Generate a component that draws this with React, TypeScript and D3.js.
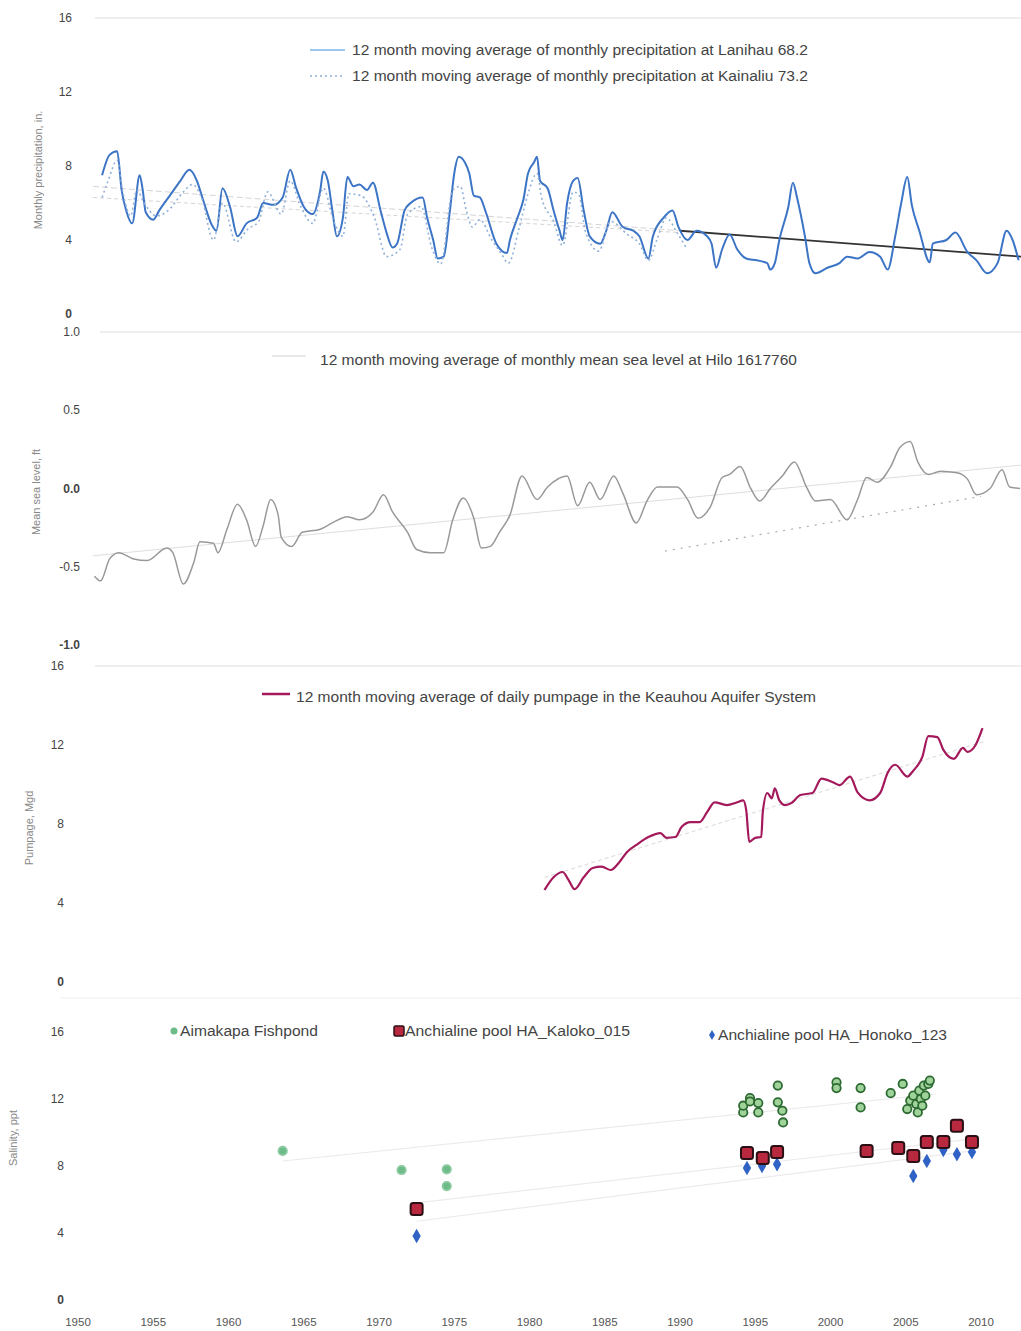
import React from 'react';
import * as d3 from 'd3';

type P = [number, number];

// ---- Panel 1: 12-month moving average precipitation (inches) ----
const lanihau: P[] = [
  [1951.6, 7.5], [1952.1, 8.6], [1952.6, 8.8], [1952.9, 6.7], [1953.2, 5.6], [1953.6, 4.9],
  [1954.1, 7.5], [1954.3, 6.7], [1954.5, 5.5], [1955.0, 5.1], [1955.4, 5.6], [1956.1, 6.4],
  [1956.8, 7.2], [1957.4, 7.8], [1957.9, 7.2], [1958.3, 6.2], [1958.9, 4.8], [1959.2, 4.5],
  [1959.6, 6.8], [1960.1, 5.8], [1960.6, 4.2], [1961.2, 4.9], [1961.9, 5.2], [1962.3, 6.0],
  [1963.0, 5.9], [1963.6, 6.3], [1964.1, 7.8], [1964.5, 6.8], [1965.0, 5.8], [1965.6, 5.4],
  [1966.1, 6.7], [1966.3, 7.7], [1966.6, 7.2], [1966.9, 5.6], [1967.2, 4.2], [1967.6, 5.2],
  [1967.9, 7.4], [1968.3, 6.9], [1968.7, 7.0], [1969.2, 6.7], [1969.6, 7.1], [1970.1, 5.6],
  [1970.5, 4.4], [1970.9, 3.6], [1971.2, 3.8], [1971.7, 5.6], [1972.1, 6.0], [1972.9, 6.3],
  [1973.2, 5.2], [1973.6, 4.0], [1973.9, 3.0], [1974.3, 3.1], [1974.7, 5.5], [1975.0, 7.6],
  [1975.3, 8.5], [1975.7, 8.2], [1976.0, 7.6], [1976.3, 6.4], [1976.7, 6.3], [1977.1, 5.5],
  [1977.8, 3.8], [1978.5, 3.3], [1978.7, 4.0], [1979.2, 5.2], [1979.6, 6.2], [1979.9, 7.6],
  [1980.3, 8.2], [1980.5, 8.5], [1980.7, 7.2], [1981.2, 6.8], [1981.6, 5.6], [1982.0, 4.5],
  [1982.2, 4.0], [1982.5, 6.0], [1982.9, 7.2], [1983.2, 7.35], [1983.6, 5.6], [1984.0, 4.2],
  [1984.7, 3.8], [1985.1, 4.5], [1985.5, 5.5], [1986.2, 4.7], [1986.9, 4.5], [1987.3, 4.2],
  [1987.9, 3.0], [1988.2, 4.2], [1988.9, 5.2], [1989.5, 5.6], [1989.9, 4.7], [1990.5, 4.0],
  [1991.1, 4.5], [1991.8, 4.2], [1992.1, 3.8], [1992.4, 2.5], [1992.8, 3.5], [1993.3, 4.3],
  [1993.8, 3.5], [1994.4, 3.0], [1995.1, 2.9], [1995.8, 2.75], [1996.0, 2.4], [1996.3, 2.75],
  [1996.6, 4.0], [1997.2, 5.8], [1997.5, 7.1], [1997.8, 6.2], [1998.3, 4.2], [1998.6, 2.75],
  [1999.0, 2.2], [1999.8, 2.5], [2000.6, 2.75], [2001.1, 3.1], [2001.8, 3.0], [2002.6, 3.35],
  [2003.3, 3.1], [2003.8, 2.4], [2004.3, 4.2], [2004.7, 6.0], [2005.1, 7.4], [2005.4, 5.9],
  [2005.9, 4.5], [2006.6, 2.8], [2006.8, 3.8], [2007.7, 4.0], [2008.3, 4.4], [2009.1, 3.35],
  [2009.7, 2.9], [2010.4, 2.2], [2011.1, 2.75], [2011.7, 4.5], [2012.1, 4.0], [2012.5, 2.9],
];

const kainaliu: P[] = [
  [1951.6, 6.3], [1952.0, 7.2], [1952.6, 8.3], [1953.0, 6.5], [1953.5, 5.3], [1953.9, 6.7],
  [1954.4, 6.0], [1955.2, 5.3], [1956.0, 5.6], [1957.0, 6.6], [1957.6, 7.0], [1958.2, 6.3],
  [1959.0, 4.0], [1959.6, 6.0], [1960.5, 3.9], [1961.3, 4.6], [1962.0, 5.0], [1962.6, 6.6],
  [1963.5, 5.4], [1964.1, 7.2], [1964.8, 5.8], [1965.6, 4.9], [1966.3, 6.8], [1967.0, 5.0],
  [1967.6, 4.2], [1968.0, 6.5], [1968.8, 6.4], [1969.7, 5.2], [1970.5, 3.1], [1971.4, 3.5],
  [1971.9, 5.4], [1972.8, 5.8], [1973.5, 3.6], [1974.1, 2.7], [1974.9, 6.7], [1975.4, 6.9],
  [1975.8, 5.6], [1976.2, 4.7], [1976.7, 5.1], [1977.5, 4.0], [1978.1, 3.3], [1978.6, 2.75],
  [1979.3, 4.6], [1979.9, 6.5], [1980.5, 7.6], [1980.8, 6.3], [1981.6, 5.0], [1982.2, 3.7],
  [1982.9, 6.6], [1983.3, 6.4], [1983.7, 4.5], [1984.6, 3.4], [1985.4, 5.0], [1986.5, 4.3],
  [1987.3, 3.8], [1987.9, 2.9], [1988.5, 4.1], [1989.1, 5.2], [1989.8, 4.4], [1990.4, 3.6],
];

const lanihauTrend: P[] = [[1951.0, 6.9], [1990.0, 4.5], [2012.7, 3.1]];
const kainaliuTrend: P[] = [[1951.0, 6.3], [1990.0, 4.4]];

// ---- Panel 2: 12-month moving average sea level (ft) ----
const seaLevel: P[] = [
  [1951.1, -0.56], [1951.5, -0.59], [1952.1, -0.45], [1952.7, -0.41], [1953.7, -0.45], [1954.6, -0.46],
  [1955.9, -0.38], [1956.3, -0.41], [1957.0, -0.61], [1957.7, -0.47], [1958.1, -0.34], [1959.0, -0.35],
  [1959.3, -0.41], [1959.9, -0.26], [1960.6, -0.10], [1961.2, -0.20], [1961.8, -0.37], [1962.3, -0.24],
  [1962.8, -0.07], [1963.3, -0.17], [1963.5, -0.31], [1964.2, -0.37], [1964.9, -0.28], [1966.1, -0.26],
  [1966.9, -0.22], [1967.9, -0.18], [1968.7, -0.20], [1969.6, -0.15], [1970.3, -0.04], [1970.9, -0.15],
  [1971.9, -0.28], [1972.5, -0.39], [1973.4, -0.41], [1974.3, -0.41], [1974.9, -0.20], [1975.6, -0.06],
  [1976.3, -0.19], [1976.8, -0.38], [1977.4, -0.37], [1978.0, -0.28], [1978.7, -0.17], [1979.5, 0.08],
  [1980.5, -0.07], [1981.2, 0.01], [1982.5, 0.08], [1983.2, -0.11], [1984.0, 0.04], [1984.7, -0.07],
  [1985.6, 0.08], [1986.2, -0.03], [1987.1, -0.22], [1987.8, -0.08], [1988.5, 0.01], [1989.8, 0.01],
  [1990.5, -0.07], [1991.2, -0.19], [1992.0, -0.12], [1992.8, 0.07], [1993.3, 0.09], [1994.0, 0.14],
  [1994.7, 0.0], [1995.3, -0.08], [1996.0, 0.0], [1996.8, 0.08], [1997.6, 0.17], [1998.4, 0.01],
  [1999.0, -0.08], [2000.0, -0.07], [2001.1, -0.20], [2001.8, -0.07], [2002.4, 0.07], [2003.1, 0.04],
  [2004.0, 0.14], [2004.6, 0.26], [2005.3, 0.30], [2005.8, 0.17], [2006.5, 0.09], [2007.3, 0.11],
  [2008.4, 0.10], [2009.1, 0.06], [2009.7, -0.04], [2010.6, 0.0], [2011.4, 0.12], [2011.9, 0.01],
  [2012.6, 0.0],
];
const seaTrend: P[] = [[1951.0, -0.43], [2012.7, 0.15]];
const seaTrend2: P[] = [[1989.0, -0.40], [2010.0, -0.05]];

// ---- Panel 3: 12-month moving average pumpage (Mgd) ----
const pumpage: P[] = [
  [1981.0, 4.66], [1981.6, 5.3], [1982.2, 5.57], [1982.6, 5.16], [1983.0, 4.7], [1983.6, 5.3],
  [1984.2, 5.77], [1984.8, 5.84], [1985.4, 5.67], [1985.9, 6.0], [1986.5, 6.6], [1987.1, 6.94],
  [1987.9, 7.34], [1988.7, 7.54], [1989.1, 7.3], [1989.7, 7.34], [1990.1, 7.85], [1990.7, 8.1],
  [1991.3, 8.1], [1991.8, 8.6], [1992.3, 9.1], [1993.1, 8.96], [1993.8, 9.1], [1994.2, 9.2],
  [1994.4, 8.7], [1994.6, 7.1], [1995.0, 7.3], [1995.4, 7.34], [1995.5, 8.6], [1995.8, 9.57],
  [1996.1, 9.3], [1996.3, 9.8], [1996.6, 9.2], [1997.0, 8.96], [1997.4, 9.06], [1998.0, 9.47],
  [1998.8, 9.57], [1999.4, 10.3], [2000.2, 10.1], [2000.6, 9.97], [2001.3, 10.4], [2001.8, 9.6],
  [2002.6, 9.2], [2003.3, 9.57], [2003.8, 10.6], [2004.3, 11.0], [2005.1, 10.4], [2005.5, 10.7],
  [2006.1, 11.4], [2006.5, 12.45], [2007.1, 12.4], [2007.5, 11.75], [2008.2, 11.3], [2008.8, 11.85],
  [2009.1, 11.65], [2009.6, 11.95], [2010.1, 12.86],
];
const pumpTrend: P[] = [[1981.0, 5.3], [2010.3, 12.2]];

// ---- Panel 4: salinity (ppt) ----
const aimakapa: P[] = [
  [1963.6, 8.9], [1971.5, 7.76], [1974.5, 7.8], [1974.5, 6.8],
  [1994.2, 11.2], [1994.2, 11.6], [1994.65, 12.06], [1994.65, 11.85], [1995.2, 11.76], [1995.2, 11.2],
  [1996.5, 12.8], [1996.5, 11.8], [1996.8, 11.3], [1996.85, 10.6], [2000.4, 13.0], [2000.4, 12.65],
  [2002.0, 12.65], [2002.0, 11.5], [2004.0, 12.35], [2004.8, 12.9],
  [2005.1, 11.4], [2005.3, 11.9], [2005.5, 12.2], [2005.7, 11.7], [2005.9, 12.5], [2006.0, 12.0],
  [2006.2, 12.8], [2006.3, 12.2], [2006.5, 12.9], [2006.6, 13.1], [2005.8, 11.2], [2006.1, 11.6],
];
const kaloko: P[] = [
  [1972.5, 5.43], [1994.45, 8.78], [1995.5, 8.48], [1996.45, 8.84], [2002.4, 8.9], [2004.5, 9.07],
  [2005.5, 8.6], [2006.4, 9.43], [2007.5, 9.43], [2008.4, 10.4], [2009.4, 9.43],
];
const honoko: P[] = [
  [1972.5, 3.82], [1994.45, 7.88], [1995.45, 8.0], [1996.45, 8.1], [2005.5, 7.4], [2006.4, 8.3],
  [2007.5, 8.96], [2008.4, 8.7], [2009.4, 8.84],
];
const aimakapaTrend: P[] = [[1963.6, 8.3], [2007.0, 12.3]];
const kalokoTrend: P[] = [[1972.5, 5.8], [2009.4, 9.6]];
const honokoTrend: P[] = [[1972.5, 4.7], [2009.4, 8.9]];

const xTicks = [1950, 1955, 1960, 1965, 1970, 1975, 1980, 1985, 1990, 1995, 2000, 2005, 2010];
const precipTicks = [0, 4, 8, 12, 16];
const seaTicks = [-1, -0.5, 0, 0.5, 1];
const pumpTicks = [0, 4, 8, 12, 16];
const salTicks = [0, 4, 8, 12, 16];

const FONT = 'Liberation Sans, Arial, sans-serif';

export default function App() {
  const x = d3.scaleLinear().domain([1950, 2010]).range([78, 981]);
  const y1 = d3.scaleLinear().domain([0, 16]).range([314, 18]);
  const y2 = d3.scaleLinear().domain([-1, 1]).range([645, 332]);
  const y3 = d3.scaleLinear().domain([0, 16]).range([982, 666]);
  const y4 = d3.scaleLinear().domain([0, 16]).range([1300, 1032]);

  const curve = (ys: d3.ScaleLinear<number, number>) =>
    d3.line<P>().x(d => x(d[0])).y(d => ys(d[1])).curve(d3.curveMonotoneX);
  const straight = (ys: d3.ScaleLinear<number, number>) =>
    d3.line<P>().x(d => x(d[0])).y(d => ys(d[1]));

  const tickLabels = (ticks: number[], ys: d3.ScaleLinear<number, number>, xr: number, fmt: (v: number) => string) =>
    ticks.map(t => (
      <text key={t} x={xr} y={ys(t) + 4} textAnchor="end" fontSize={12} fill="#444" fontFamily={FONT}
        fontWeight={t === 0 || t === -1 ? 'bold' : 'normal'}>
        {fmt(t)}
      </text>
    ));

  const yLabel = (label: string, cx: number, cy: number) => (
    <text transform={`translate(${cx},${cy}) rotate(-90)`} textAnchor="middle" fontSize={11} fill="#888" fontFamily={FONT}>
      {label}
    </text>
  );

  const diamond = d3.symbol().type(d3.symbolDiamond).size(60)();
  const legendText = (s: string, tx: number, ty: number, len: number) => (
    <text x={tx} y={ty} fontSize={14} fill="#444" fontFamily={FONT} textLength={len} lengthAdjust="spacingAndGlyphs">
      {s}
    </text>
  );

  return (
    <svg width={1021} height={1331} style={{ position: 'absolute', left: 0, top: 0, background: '#fff' }}>
      <rect width={1021} height={1331} fill="#fff" />

      {/* ===== Panel 1 ===== */}
      <line x1={95} x2={1021} y1={y1(16)} y2={y1(16)} stroke="#ddd" strokeWidth={1} />
      {tickLabels(precipTicks, y1, 72, v => String(v))}
      {yLabel('Monthly precipitation, in.', 42, 170)}
      <path d={straight(y1)(kainaliuTrend) || ''} fill="none" stroke="#d5d5d5" strokeWidth={1} strokeDasharray="4 3" />
      <path d={straight(y1)(lanihauTrend.slice(0, 2)) || ''} fill="none" stroke="#d5d5d5" strokeWidth={1} strokeDasharray="6 3" />
      <path d={straight(y1)(lanihauTrend.slice(1)) || ''} fill="none" stroke="#333" strokeWidth={1.8} />
      <path d={curve(y1)(lanihau) || ''} fill="none" stroke="#3c74c6" strokeWidth={2} />
      <path d={curve(y1)(kainaliu) || ''} fill="none" stroke="#8fb0d8" strokeWidth={1.6} strokeDasharray="2 3" />
      <line x1={310} x2={345} y1={50} y2={50} stroke="#7ab6e6" strokeWidth={1.5} />
      <line x1={310} x2={345} y1={76} y2={76} stroke="#8fb0d8" strokeWidth={1.5} strokeDasharray="2 3" />
      {legendText('12 month moving average of monthly precipitation at Lanihau 68.2', 352, 55, 456)}
      {legendText('12 month moving average of monthly precipitation at Kainaliu 73.2', 352, 81, 456)}

      {/* ===== Panel 2 ===== */}
      <line x1={100} x2={1021} y1={y2(1)} y2={y2(1)} stroke="#ddd" strokeWidth={1} />
      {tickLabels(seaTicks, y2, 80, v => v.toFixed(1))}
      {yLabel('Mean sea level, ft', 40, 492)}
      <path d={straight(y2)(seaTrend) || ''} fill="none" stroke="#dedede" strokeWidth={1} />
      <path d={straight(y2)(seaTrend2) || ''} fill="none" stroke="#aaa" strokeWidth={1.2} strokeDasharray="2 6" />
      <path d={curve(y2)(seaLevel) || ''} fill="none" stroke="#999" strokeWidth={1.5} />
      <line x1={272} x2={306} y1={356} y2={356} stroke="#e2e2e2" strokeWidth={1.5} />
      {legendText('12 month moving average of monthly mean sea level at Hilo 1617760', 320, 365, 477)}

      {/* ===== Panel 3 ===== */}
      <line x1={95} x2={1021} y1={y3(16)} y2={y3(16)} stroke="#ddd" strokeWidth={1} />
      {tickLabels(pumpTicks, y3, 64, v => String(v))}
      {yLabel('Pumpage, Mgd', 33, 828)}
      <path d={straight(y3)(pumpTrend) || ''} fill="none" stroke="#d8d8d8" strokeWidth={1} strokeDasharray="4 3" />
      <path d={curve(y3)(pumpage) || ''} fill="none" stroke="#a3195b" strokeWidth={2.2} />
      <line x1={262} x2={290} y1={694} y2={694} stroke="#a3195b" strokeWidth={2.5} />
      {legendText('12 month moving average of daily pumpage in the Keauhou Aquifer System', 296, 702, 520)}
      <line x1={60} x2={1021} y1={998} y2={998} stroke="#eee" strokeWidth={1} />

      {/* ===== Panel 4 ===== */}
      {tickLabels(salTicks, y4, 64, v => String(v))}
      {yLabel('Salinity, ppt', 17, 1138)}
      <path d={straight(y4)(aimakapaTrend) || ''} fill="none" stroke="#ebebeb" strokeWidth={1.2} />
      <path d={straight(y4)(kalokoTrend) || ''} fill="none" stroke="#ebebeb" strokeWidth={1.2} />
      <path d={straight(y4)(honokoTrend) || ''} fill="none" stroke="#ebebeb" strokeWidth={1.2} />
      {aimakapa.map((d, i) => (
        <circle key={'a' + i} cx={x(d[0])} cy={y4(d[1])} r={4.2}
          fill={d[0] < 1990 ? '#6dbb88' : '#9fd39a'} stroke={d[0] < 1990 ? '#8ccaa0' : '#2e6b33'} strokeWidth={1.8} />
      ))}
      {honoko.map((d, i) => (
        <path key={'h' + i} d={diamond || ''} transform={`translate(${x(d[0])},${y4(d[1])})`} fill="#2f62c4" />
      ))}
      {kaloko.map((d, i) => (
        <rect key={'k' + i} x={x(d[0]) - 6} y={y4(d[1]) - 6} width={12} height={12} rx={2.5}
          fill="#b8283f" stroke="#2a1014" strokeWidth={2} />
      ))}
      {/* legend */}
      <circle cx={174} cy={1031} r={3.5} fill="#6dbb88" />
      {legendText('Aimakapa Fishpond', 180, 1036, 138)}
      <rect x={394} y={1026} width={10} height={10} rx={1.5} fill="#b8283f" stroke="#2a1014" strokeWidth={1.5} />
      {legendText('Anchialine pool HA_Kaloko_015', 405, 1036, 225)}
      <path d={d3.symbol().type(d3.symbolDiamond).size(30)() || ''} transform="translate(712,1035)" fill="#2f62c4" />
      {legendText('Anchialine pool HA_Honoko_123', 718, 1040, 229)}

      {/* x axis labels */}
      {xTicks.map(t => (
        <text key={t} x={x(t)} y={1326} textAnchor="middle" fontSize={11.5} fill="#555" fontFamily={FONT}>
          {t}
        </text>
      ))}
    </svg>
  );
}
